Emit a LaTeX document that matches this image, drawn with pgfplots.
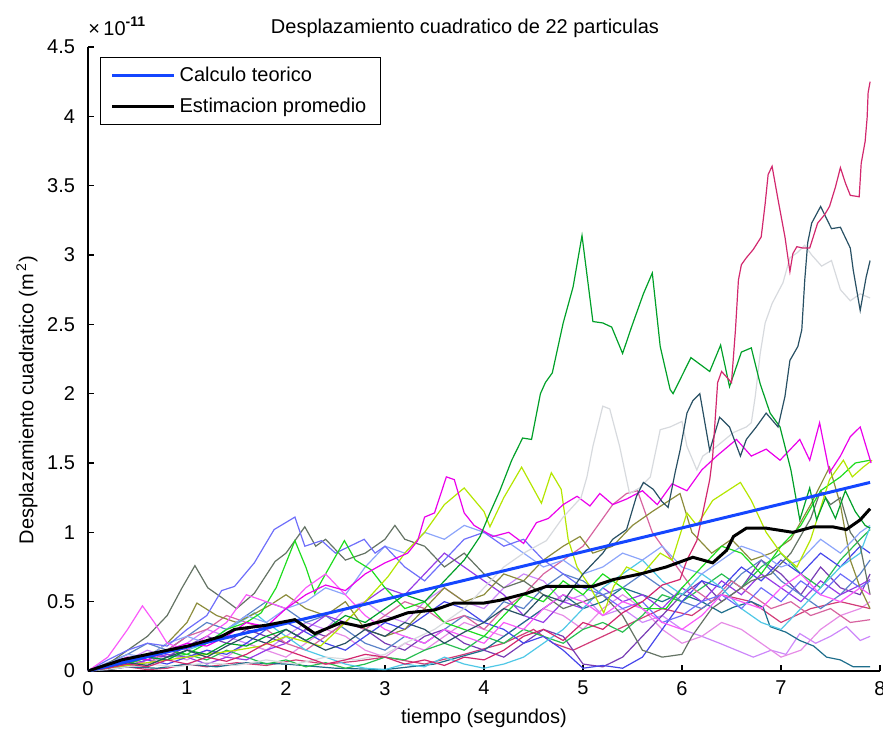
\documentclass[border=0pt]{standalone}
\usepackage{pgfplots}
\pgfplotsset{compat=1.18}
\usepackage{fontspec}
\setmainfont{Liberation Sans}
\usetikzlibrary{calc}

% particle colours
\definecolor{pA}{RGB}{210,40,110}
\definecolor{pB}{RGB}{40,80,100}
\definecolor{pC}{RGB}{215,218,222}
\definecolor{pD}{RGB}{0,160,40}
\definecolor{pE}{RGB}{235,0,235}
\definecolor{pF}{RGB}{250,90,250}
\definecolor{pG}{RGB}{180,230,0}
\definecolor{pH}{RGB}{30,220,30}
\definecolor{pI}{RGB}{110,110,250}
\definecolor{pJ}{RGB}{140,165,250}
\definecolor{pK}{RGB}{100,115,100}
\definecolor{pL}{RGB}{140,140,60}
\definecolor{pM}{RGB}{80,200,230}
\definecolor{pN}{RGB}{215,100,160}
\definecolor{pO}{RGB}{150,60,230}
\definecolor{pP}{RGB}{30,110,140}
\definecolor{pQ}{RGB}{205,135,250}
\definecolor{pR}{RGB}{230,140,230}
\definecolor{pS}{RGB}{40,190,80}
\definecolor{pT}{RGB}{120,60,180}
\definecolor{pU}{RGB}{210,60,120}
\definecolor{pV}{RGB}{90,130,200}
\definecolor{pW}{RGB}{70,70,235}
\definecolor{teo}{RGB}{20,70,255}

\begin{document}
\begin{tikzpicture}
\begin{axis}[
  name=ax,
  scale only axis,
  width=396pt, height=312pt,
  xmin=0, xmax=8, ymin=0, ymax=4.5,
  axis x line*=bottom, axis y line*=left,
  axis line style={black, line width=0.7pt, -},
  xtick={0,1,2,3,4,5,6,7,8},
  ytick={0,0.5,1,1.5,2,2.5,3,3.5,4,4.5},
  yticklabels={0,0.5,1,1.5,2,2.5,3,3.5,4,4.5},
  tick align=inside,
  major tick length=3pt,
  tick style={black, line width=0.7pt},
  /pgf/number format/assume math mode=true,
  ticklabel style={font=\fontsize{10}{12}\selectfont},
  yticklabel style={xshift=-3pt},
  xticklabel style={yshift=-1.5pt},
  xlabel={tiempo (segundos)},
  ylabel={Desplazamiento cuadratico (m\textsuperscript{\,2})},
  xlabel style={at={(axis description cs:0.5,-0.0753)}, anchor=center, font=\fontsize{10}{12}\selectfont},
  ylabel style={at={(axis description cs:-0.077,0.434)}, anchor=center, rotate=0, font=\fontsize{10}{12}\selectfont},
  legend style={at={(axis description cs:0.0152,0.984)}, anchor=north west,
    draw=black, line width=0.6pt, fill=white,
    font=\fontsize{10}{12}\selectfont,
    inner xsep=5pt, inner ysep=2.5pt, row sep=3pt,
    legend cell align=left},
  legend image code/.code={\draw[#1] (0pt,0pt) -- (31pt,0pt);},
  every axis plot/.append style={line width=0.6pt},
]
% individual particles
\addplot[pQ, forget plot] coordinates {(0,0) (0.2,0.05) (0.4,0.08) (0.6,0.15) (0.8,0.1) (1.0,0.2) (1.2,0.3) (1.4,0.25) (1.6,0.2) (1.8,0.15) (2.0,0.25) (2.2,0.35) (2.4,0.3) (2.6,0.45) (2.8,0.5) (3.0,0.4) (3.2,0.35) (3.4,0.5) (3.6,0.6) (3.8,0.5) (4.0,0.45) (4.2,0.6) (4.4,0.7) (4.6,0.65) (4.8,0.5) (5.0,0.55) (5.2,0.4) (5.4,0.45) (5.6,0.35) (5.8,0.4) (6.0,0.3) (6.2,0.25) (6.38,0.20) (6.55,0.15) (6.72,0.10) (6.9,0.15) (7.05,0.12) (7.19,0.27) (7.35,0.2) (7.5,0.25) (7.66,0.32) (7.8,0.22) (7.9,0.25)};
\addplot[pR, forget plot] coordinates {(0,0) (0.2,0.05) (0.4,0.1) (0.6,0.05) (0.8,0.12) (1.0,0.08) (1.2,0.15) (1.4,0.1) (1.6,0.2) (1.8,0.15) (2.0,0.1) (2.2,0.2) (2.4,0.3) (2.6,0.25) (2.8,0.15) (3.0,0.1) (3.2,0.2) (3.4,0.15) (3.6,0.25) (3.8,0.35) (4.0,0.3) (4.2,0.25) (4.4,0.35) (4.6,0.45) (4.8,0.4) (5.0,0.3) (5.2,0.45) (5.4,0.55) (5.6,0.45) (5.8,0.3) (6.0,0.2) (6.2,0.25) (6.4,0.35) (6.6,0.3) (6.8,0.2) (7.0,0.1) (7.2,0.15) (7.4,0.3) (7.6,0.4) (7.8,0.45) (7.9,0.5)};
\addplot[pU, forget plot] coordinates {(0,0) (0.2,0.01) (0.4,0.03) (0.6,0.01) (0.8,0.02) (1.0,0.05) (1.2,0.03) (1.5,0.06) (1.8,0.04) (2.1,0.08) (2.4,0.05) (2.7,0.07) (3.0,0.1) (3.4,0.05) (3.8,0.12) (4.2,0.2) (4.5,0.3) (4.7,0.2) (4.9,0.15) (5.2,0.25) (5.5,0.35) (5.8,0.45) (6.1,0.4) (6.4,0.55) (6.7,0.5) (7.0,0.35) (7.3,0.45) (7.6,0.5) (7.9,0.45)};
\addplot[pP, forget plot] coordinates {(0,0) (0.2,0.01) (0.4,0.03) (0.7,0.02) (1.0,0.05) (1.3,0.03) (1.6,0.06) (2.0,0.05) (2.5,0.02) (3.0,0.01) (3.5,0.05) (4.0,0.15) (4.3,0.3) (4.6,0.45) (4.8,0.55) (5.0,0.45) (5.2,0.5) (5.4,0.6) (5.6,0.55) (5.8,0.5) (5.98,0.56) (6.2,0.5) (6.4,0.42) (6.52,0.46) (6.7,0.5) (6.82,0.46) (6.89,0.32) (7.05,0.28) (7.19,0.22) (7.33,0.18) (7.46,0.10) (7.6,0.08) (7.73,0.03) (7.9,0.03)};
\addplot[pT, forget plot] coordinates {(0,0) (0.2,0.04) (0.4,0.08) (0.6,0.12) (0.8,0.1) (1.0,0.18) (1.2,0.25) (1.4,0.2) (1.6,0.3) (1.8,0.25) (2.0,0.2) (2.2,0.3) (2.4,0.25) (2.6,0.35) (2.8,0.3) (3.0,0.2) (3.2,0.15) (3.4,0.25) (3.6,0.3) (3.8,0.2) (4.0,0.15) (4.2,0.1) (4.4,0.2) (4.6,0.3) (4.8,0.25) (5.0,0.05) (5.2,0.03) (5.4,0.1) (5.6,0.25) (5.8,0.4) (6.0,0.55) (6.2,0.65) (6.4,0.5) (6.6,0.6) (6.8,0.8) (7.0,0.7) (7.2,0.55) (7.4,0.75) (7.6,0.6) (7.8,0.55) (7.9,0.7)};
\addplot[pS, forget plot] coordinates {(0,0) (0.2,0.03) (0.4,0.06) (0.6,0.04) (0.8,0.1) (1.0,0.12) (1.2,0.08) (1.4,0.15) (1.6,0.1) (1.8,0.05) (2.0,0.08) (2.2,0.03) (2.4,0.06) (2.6,0.02) (2.8,0.05) (3.0,0.1) (3.2,0.08) (3.4,0.15) (3.6,0.2) (3.8,0.15) (4.0,0.25) (4.2,0.2) (4.4,0.3) (4.6,0.25) (4.8,0.2) (5.0,0.3) (5.2,0.35) (5.4,0.28) (5.6,0.4) (5.8,0.55) (6.0,0.5) (6.2,0.6) (6.4,0.7) (6.6,0.6) (6.8,0.75) (7.0,0.85) (7.2,0.7) (7.4,0.6) (7.6,0.8) (7.8,0.95) (7.9,1.02)};
\addplot[pV, forget plot] coordinates {(0,0) (0.2,0.06) (0.4,0.12) (0.6,0.2) (0.8,0.15) (1.0,0.25) (1.2,0.35) (1.4,0.3) (1.6,0.4) (1.8,0.5) (2.0,0.45) (2.2,0.35) (2.4,0.4) (2.6,0.3) (2.8,0.2) (3.0,0.15) (3.2,0.25) (3.4,0.2) (3.6,0.3) (3.8,0.4) (4.0,0.35) (4.2,0.5) (4.4,0.45) (4.6,0.6) (4.8,0.7) (5.0,0.65) (5.2,0.55) (5.4,0.6) (5.6,0.7) (5.8,0.6) (6.0,0.5) (6.2,0.45) (6.4,0.55) (6.6,0.7) (6.8,0.8) (7.0,0.65) (7.2,0.55) (7.4,0.45) (7.6,0.55) (7.8,0.7) (7.9,0.8)};
\addplot[pW, forget plot] coordinates {(0,0) (0.2,0.02) (0.4,0.04) (0.6,0.08) (0.8,0.05) (1.0,0.1) (1.2,0.15) (1.4,0.12) (1.6,0.2) (1.8,0.3) (2.0,0.35) (2.2,0.28) (2.4,0.2) (2.6,0.15) (2.8,0.25) (3.0,0.35) (3.2,0.3) (3.4,0.4) (3.6,0.5) (3.8,0.45) (4.0,0.35) (4.2,0.3) (4.4,0.2) (4.6,0.25) (4.8,0.15) (5.0,0.02) (5.2,0.04) (5.4,0.02) (5.6,0.1) (5.8,0.3) (6.0,0.5) (6.2,0.65) (6.4,0.6) (6.6,0.75) (6.8,0.65) (7.0,0.8) (7.2,0.7) (7.4,0.85) (7.6,0.75) (7.8,0.9) (7.9,0.85)};
\addplot[pO, forget plot] coordinates {(0,0) (0.2,0.05) (0.4,0.03) (0.6,0.08) (0.8,0.12) (1.0,0.1) (1.2,0.05) (1.4,0.1) (1.6,0.08) (1.8,0.15) (2.0,0.2) (2.2,0.3) (2.4,0.4) (2.6,0.35) (2.8,0.5) (3.0,0.6) (3.2,0.55) (3.4,0.7) (3.6,0.85) (3.8,0.75) (4.0,0.65) (4.2,0.55) (4.4,0.4) (4.6,0.35) (4.8,0.5) (5.0,0.45) (5.2,0.6) (5.4,0.5) (5.6,0.55) (5.8,0.45) (6.0,0.6) (6.2,0.5) (6.4,0.65) (6.6,0.55) (6.8,0.7) (7.0,0.6) (7.2,0.5) (7.4,0.65) (7.6,0.55) (7.8,0.62) (7.9,0.66)};
\addplot[pN, forget plot] coordinates {(0,0) (0.2,0.03) (0.4,0.08) (0.6,0.05) (0.8,0.15) (1.0,0.25) (1.2,0.3) (1.4,0.4) (1.6,0.35) (1.8,0.3) (2.0,0.2) (2.2,0.15) (2.4,0.25) (2.6,0.35) (2.8,0.3) (3.0,0.4) (3.2,0.5) (3.4,0.45) (3.6,0.35) (3.8,0.4) (4.0,0.3) (4.2,0.45) (4.4,0.55) (4.6,0.7) (4.8,0.8) (5.0,0.9) (5.2,1.1) (5.3,1.2) (5.44,1.28) (5.55,1.30) (5.7,1.0) (5.9,0.8) (6.1,0.6) (6.3,0.5) (6.5,0.65) (6.7,0.55) (6.9,0.45) (7.1,0.5) (7.3,0.4) (7.5,0.45) (7.7,0.35) (7.9,0.37)};
\addplot[pM, forget plot] coordinates {(0,0) (0.2,0.03) (0.4,0.05) (0.6,0.1) (0.8,0.08) (1.0,0.15) (1.2,0.2) (1.4,0.3) (1.6,0.38) (1.68,0.42) (1.8,0.35) (2.0,0.25) (2.2,0.15) (2.4,0.1) (2.6,0.05) (2.8,0.02) (3.0,0.01) (3.2,0.05) (3.4,0.03) (3.6,0.1) (3.8,0.05) (4.0,0.02) (4.2,0.05) (4.4,0.1) (4.6,0.2) (4.8,0.3) (5.0,0.45) (5.2,0.6) (5.4,0.7) (5.6,0.8) (5.8,0.65) (6.0,0.55) (6.2,0.7) (6.4,0.6) (6.6,0.45) (6.8,0.35) (7.0,0.3) (7.2,0.45) (7.4,0.6) (7.6,0.75) (7.8,0.85) (7.9,1.04)};
\addplot[pL, forget plot] coordinates {(0,0) (0.2,0.02) (0.4,0.05) (0.6,0.1) (0.8,0.2) (1.0,0.35) (1.1,0.49) (1.3,0.4) (1.5,0.35) (1.7,0.42) (1.85,0.48) (2.0,0.55) (2.2,0.45) (2.4,0.4) (2.6,0.5) (2.8,0.3) (3.0,0.25) (3.2,0.3) (3.4,0.45) (3.6,0.6) (3.8,0.5) (4.0,0.55) (4.2,0.7) (4.4,0.65) (4.6,0.8) (4.8,0.9) (4.97,0.97) (5.1,0.85) (5.3,0.9) (5.5,1.05) (5.7,1.15) (5.98,1.28) (6.1,1.0) (6.3,0.85) (6.5,0.95) (6.7,0.8) (6.9,0.85) (7.1,0.95) (7.3,1.2) (7.49,1.47) (7.6,1.2) (7.7,0.8) (7.8,0.6) (7.9,0.45)};
\addplot[pK, forget plot] coordinates {(0,0) (0.2,0.05) (0.4,0.15) (0.6,0.25) (0.8,0.4) (0.95,0.6) (1.08,0.76) (1.21,0.60) (1.35,0.53) (1.5,0.45) (1.68,0.56) (1.89,0.79) (2.0,0.85) (2.19,1.04) (2.3,0.9) (2.4,0.95) (2.6,0.8) (2.8,0.85) (3.0,0.95) (3.1,1.05) (3.2,0.95) (3.4,0.9) (3.6,0.75) (3.8,0.85) (4.0,0.7) (4.2,0.6) (4.4,0.65) (4.6,0.55) (4.8,0.45) (5.0,0.5) (5.2,0.55) (5.4,0.4) (5.6,0.15) (5.8,0.1) (6.0,0.12) (6.1,0.25) (6.3,0.45) (6.5,0.55) (6.7,0.65) (6.9,0.7) (7.1,0.85) (7.3,1.1) (7.4,1.3) (7.5,1.2) (7.6,1.25) (7.7,1.0) (7.8,0.9) (7.9,0.55)};
\addplot[pJ, forget plot] coordinates {(0,0) (0.2,0.05) (0.4,0.12) (0.6,0.1) (0.8,0.2) (1.0,0.25) (1.2,0.2) (1.4,0.3) (1.6,0.4) (1.8,0.35) (2.0,0.45) (2.2,0.5) (2.4,0.6) (2.6,0.55) (2.8,0.75) (3.0,0.9) (3.2,0.85) (3.4,1.0) (3.6,0.95) (3.8,1.05) (4.0,1.0) (4.2,0.95) (4.4,0.85) (4.6,0.75) (4.8,0.8) (5.0,0.7) (5.2,0.75) (5.4,0.85) (5.6,0.8) (5.8,0.9) (6.0,0.75) (6.2,0.7) (6.4,0.8) (6.6,0.9) (6.8,0.85) (7.0,0.75) (7.2,0.8) (7.4,0.95) (7.6,0.85) (7.8,1.0) (7.9,1.05)};
\addplot[pI, forget plot] coordinates {(0,0) (0.2,0.08) (0.4,0.15) (0.6,0.2) (0.8,0.18) (1.0,0.3) (1.2,0.4) (1.35,0.58) (1.48,0.61) (1.68,0.78) (1.88,1.02) (2.09,1.11) (2.19,0.90) (2.36,0.94) (2.5,0.85) (2.79,0.95) (2.9,0.85) (3.0,0.9) (3.2,0.75) (3.4,0.65) (3.6,0.8) (3.8,0.95) (4.0,1.0) (4.2,0.9) (4.4,0.95) (4.6,0.8) (4.8,0.7) (5.0,0.6) (5.2,0.55) (5.4,0.45) (5.6,0.5) (5.8,0.35) (6.0,0.4) (6.2,0.5) (6.4,0.55) (6.6,0.45) (6.8,0.6) (7.0,0.5) (7.2,0.65) (7.4,0.55) (7.6,0.7) (7.8,0.6) (7.9,0.65)};
\addplot[pH, forget plot] coordinates {(0,0) (0.2,0.02) (0.4,0.05) (0.6,0.1) (0.8,0.15) (1.0,0.12) (1.2,0.2) (1.4,0.3) (1.6,0.35) (1.75,0.42) (1.9,0.6) (2.09,0.94) (2.2,0.75) (2.29,0.56) (2.4,0.7) (2.59,0.94) (2.7,0.8) (2.86,0.73) (3.0,0.6) (3.2,0.45) (3.4,0.5) (3.6,0.35) (3.8,0.3) (4.0,0.25) (4.2,0.4) (4.4,0.55) (4.6,0.5) (4.8,0.65) (5.0,0.55) (5.2,0.7) (5.4,0.6) (5.6,0.45) (5.84,0.45) (6.0,0.6) (6.2,0.75) (6.4,0.9) (6.6,0.85) (6.8,0.7) (7.0,0.9) (7.2,1.05) (7.4,1.3) (7.6,1.4) (7.75,1.5) (7.9,1.52)};
\addplot[pG, forget plot] coordinates {(0,0) (0.5,0.05) (1.0,0.1) (1.5,0.15) (1.75,0.18) (2.0,0.25) (2.35,0.18) (2.6,0.35) (2.8,0.5) (3.03,0.68) (3.2,0.85) (3.4,1.0) (3.6,1.2) (3.8,1.32) (4.0,1.15) (4.06,1.04) (4.2,1.25) (4.38,1.47) (4.58,1.21) (4.68,1.43) (4.78,1.31) (4.85,0.95) (4.94,0.75) (5.07,0.61) (5.21,0.42) (5.31,0.61) (5.44,0.75) (5.6,0.7) (5.78,0.85) (5.9,0.8) (6.05,1.14) (6.15,1.05) (6.31,1.23) (6.59,1.36) (6.7,1.23) (6.85,1.0) (7.0,0.85) (7.16,0.75) (7.3,0.95) (7.49,1.38) (7.63,1.52) (7.72,1.40) (7.83,1.47) (7.92,1.52)};
\addplot[pF, forget plot] coordinates {(0,0) (0.2,0.1) (0.4,0.3) (0.55,0.47) (0.67,0.35) (0.8,0.2) (1.0,0.15) (1.2,0.25) (1.4,0.35) (1.6,0.55) (1.8,0.5) (2.0,0.45) (2.2,0.6) (2.4,0.7) (2.6,0.55) (2.8,0.4) (3.0,0.3) (3.2,0.25) (3.4,0.2) (3.6,0.3) (3.8,0.25) (4.0,0.2) (4.2,0.35) (4.4,0.3) (4.6,0.45) (4.8,0.55) (5.0,0.5) (5.2,0.4) (5.4,0.5) (5.6,0.45) (5.8,0.35) (6.0,0.3) (6.2,0.4) (6.4,0.55) (6.6,0.5) (6.8,0.45) (7.0,0.6) (7.2,0.7) (7.4,0.55) (7.6,0.5) (7.8,0.6) (7.9,0.55)};
\addplot[pE, forget plot] coordinates {(0,0) (0.2,0.05) (0.4,0.1) (0.6,0.08) (0.8,0.15) (1.0,0.2) (1.2,0.18) (1.4,0.25) (1.6,0.35) (1.8,0.32) (2.0,0.45) (2.2,0.55) (2.4,0.62) (2.6,0.58) (2.8,0.7) (3.0,0.78) (3.23,0.85) (3.33,0.94) (3.40,1.11) (3.50,1.14) (3.62,1.40) (3.70,1.38) (3.80,1.14) (3.90,1.05) (4.09,0.97) (4.25,1.0) (4.40,0.92) (4.53,1.07) (4.65,1.10) (4.80,1.20) (4.94,1.26) (5.07,1.19) (5.17,1.28) (5.30,1.20) (5.44,1.24) (5.6,1.30) (5.75,1.20) (5.9,1.35) (6.05,1.30) (6.2,1.45) (6.35,1.55) (6.55,1.67) (6.7,1.55) (6.85,1.60) (6.99,1.52) (7.19,1.67) (7.29,1.52) (7.39,1.79) (7.49,1.43) (7.6,1.55) (7.70,1.69) (7.80,1.76) (7.91,1.50)};
\addplot[pC, forget plot] coordinates {(0,0) (0.3,0.02) (0.6,0.05) (0.9,0.03) (1.2,0.06) (1.5,0.04) (1.8,0.08) (2.1,0.05) (2.4,0.1) (2.7,0.08) (3.0,0.12) (3.2,0.2) (3.5,0.3) (3.8,0.45) (4.0,0.6) (4.2,0.75) (4.4,0.85) (4.63,0.94) (4.80,1.11) (4.98,1.25) (5.04,1.40) (5.10,1.62) (5.20,1.91) (5.27,1.89) (5.37,1.62) (5.47,1.28) (5.57,1.32) (5.68,1.40) (5.78,1.74) (5.88,1.76) (6.0,1.80) (6.05,1.62) (6.15,1.45) (6.21,1.55) (6.35,1.62) (6.52,1.72) (6.65,1.76) (6.70,1.79) (6.74,1.98) (6.79,2.29) (6.84,2.51) (6.91,2.65) (7.02,2.80) (7.09,2.98) (7.17,3.02) (7.24,3.07) (7.31,3.0) (7.41,2.92) (7.51,2.96) (7.60,2.75) (7.70,2.67) (7.80,2.72) (7.90,2.69)};
\addplot[pD, forget plot] coordinates {(0,0) (0.2,0.02) (0.4,0.06) (0.6,0.1) (0.8,0.08) (1.0,0.15) (1.2,0.12) (1.4,0.2) (1.6,0.18) (1.8,0.25) (2.0,0.3) (2.2,0.22) (2.4,0.3) (2.6,0.4) (2.8,0.35) (3.0,0.45) (3.2,0.55) (3.4,0.5) (3.6,0.65) (3.8,0.8) (3.96,0.97) (4.06,1.14) (4.16,1.30) (4.28,1.52) (4.39,1.68) (4.48,1.67) (4.57,2.0) (4.62,2.08) (4.69,2.15) (4.80,2.51) (4.90,2.77) (4.99,3.14) (5.10,2.52) (5.20,2.51) (5.29,2.48) (5.40,2.29) (5.49,2.48) (5.61,2.72) (5.70,2.87) (5.78,2.34) (5.88,2.03) (5.91,2.0) (6.09,2.26) (6.28,2.16) (6.39,2.35) (6.48,2.05) (6.60,2.30) (6.70,2.33) (6.79,2.07) (6.89,1.86) (6.99,1.76) (7.10,1.45) (7.19,1.09) (7.29,1.32) (7.36,1.09) (7.45,1.25) (7.55,1.10) (7.65,1.30) (7.75,1.15) (7.85,1.05) (7.90,1.03)};
\addplot[pB, forget plot] coordinates {(0,0) (0.2,0.03) (0.4,0.06) (0.6,0.04) (0.8,0.1) (1.0,0.15) (1.2,0.1) (1.4,0.18) (1.6,0.25) (1.8,0.2) (2.0,0.3) (2.2,0.22) (2.4,0.15) (2.6,0.2) (2.8,0.3) (3.0,0.25) (3.2,0.35) (3.4,0.3) (3.6,0.2) (3.8,0.28) (4.0,0.35) (4.2,0.45) (4.4,0.4) (4.6,0.55) (4.8,0.5) (5.0,0.7) (5.2,0.85) (5.3,0.95) (5.44,1.02) (5.54,1.26) (5.61,1.36) (5.71,1.31) (5.80,1.22) (5.86,1.18) (5.93,1.43) (5.98,1.59) (6.05,1.86) (6.11,1.95) (6.18,2.0) (6.28,1.59) (6.38,1.83) (6.48,1.76) (6.59,1.55) (6.65,1.67) (6.75,1.76) (6.85,1.86) (6.97,1.76) (7.04,1.98) (7.09,2.24) (7.17,2.34) (7.21,2.46) (7.24,2.82) (7.27,3.09) (7.31,3.23) (7.40,3.35) (7.51,3.19) (7.60,3.20) (7.70,3.05) (7.73,2.89) (7.80,2.60) (7.86,2.84) (7.90,2.96)};
\addplot[pA, forget plot] coordinates {(0,0) (0.2,0.02) (0.4,0.05) (0.6,0.03) (0.8,0.08) (1.0,0.05) (1.2,0.1) (1.4,0.07) (1.6,0.12) (1.8,0.2) (2.0,0.15) (2.2,0.1) (2.4,0.05) (2.6,0.08) (2.8,0.12) (3.0,0.1) (3.2,0.05) (3.4,0.08) (3.6,0.04) (3.8,0.1) (4.0,0.08) (4.2,0.15) (4.4,0.25) (4.6,0.3) (4.8,0.22) (5.0,0.35) (5.2,0.3) (5.4,0.42) (5.6,0.5) (5.8,0.62) (5.98,0.66) (6.05,0.80) (6.15,0.94) (6.21,1.14) (6.28,1.38) (6.31,1.55) (6.33,1.76) (6.36,2.08) (6.40,2.16) (6.45,2.12) (6.50,2.08) (6.54,2.46) (6.57,2.82) (6.60,2.93) (6.65,2.98) (6.72,3.04) (6.80,3.13) (6.84,3.37) (6.87,3.58) (6.91,3.64) (6.97,3.40) (7.04,3.13) (7.09,2.88) (7.12,3.01) (7.16,3.06) (7.22,3.05) (7.29,3.05) (7.37,3.23) (7.44,3.29) (7.49,3.35) (7.55,3.49) (7.60,3.63) (7.65,3.52) (7.70,3.43) (7.79,3.42) (7.81,3.66) (7.85,3.82) (7.87,3.99) (7.88,4.17) (7.90,4.25)};
% theoretical curve and average of the particles
\addplot[teo, line width=1.5pt] coordinates {(0,0) (1,0.172) (2,0.344) (3,0.516) (4,0.688) (5,0.860) (6,1.032) (7,1.204) (7.9,1.36)};
\addlegendentry{Calculo teorico}
\addplot[black, line width=1.5pt] coordinates {(0,0) (0.34,0.08) (0.67,0.13) (1.01,0.18) (1.35,0.25) (1.48,0.30) (1.8,0.33) (2.09,0.37) (2.29,0.27) (2.56,0.35) (2.76,0.32) (3.03,0.37) (3.23,0.42) (3.50,0.44) (3.70,0.49) (4.0,0.49) (4.16,0.51) (4.43,0.56) (4.63,0.61) (4.9,0.61) (5.10,0.61) (5.31,0.66) (5.58,0.70) (5.84,0.75) (6.11,0.82) (6.31,0.78) (6.45,0.87) (6.52,0.97) (6.65,1.03) (6.85,1.03) (7.12,1.00) (7.33,1.04) (7.52,1.04) (7.66,1.02) (7.80,1.09) (7.90,1.17)};
\addlegendentry{Estimacion promedio}
\end{axis}
% title and exponent above the axis
\node[anchor=base, font=\fontsize{10}{12}\selectfont] at ($(ax.north west)!0.476!(ax.north east)+(0,6.5pt)$) {Desplazamiento cuadratico de 22 particulas};
\node[anchor=base west, inner sep=0pt, font=\fontsize{10}{12}\selectfont] at ($(ax.north west)+(0,5.5pt)$) {\texttimes\,10\raisebox{0.9ex}{\fontsize{7}{8}\selectfont\bfseries -11}};
\pgfresetboundingbox
\path ($(ax.south west)+(-44pt,-31.5pt)$) rectangle ($(ax.north east)+(1.5pt,23.5pt)$);
\end{tikzpicture}
\end{document}
